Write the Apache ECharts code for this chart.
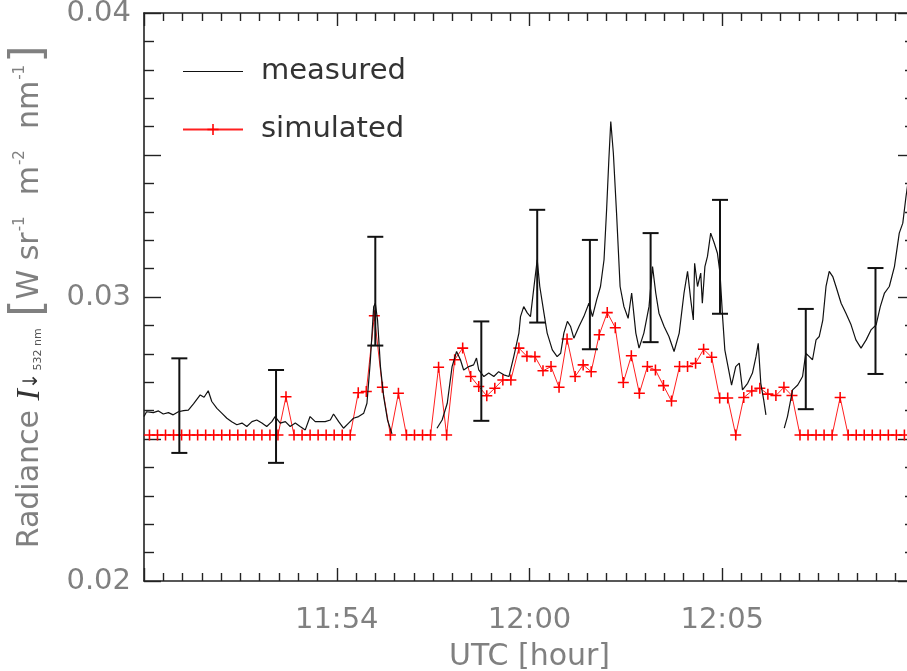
<!DOCTYPE html>
<html>
<head>
<meta charset="utf-8">
<script src="https://cdn.jsdelivr.net/npm/echarts@6/dist/echarts.min.js"></script>
<style>
html,body{margin:0;padding:0;background:#fff;}
#chart{width:907px;height:671px;}
</style>
</head>
<body>
<div id="chart"></div>
<script>
// x in minutes after 11:48 UTC
var xTickValues = [6, 12, 18];
var xTickLabels = ['11:54', '12:00', '12:05'];
var yTickValues = [0.02, 0.03, 0.04];
var yTickLabels = ['0.02', '0.03', '0.04'];

var measTime = [0.00,0.08,0.29,0.45,0.60,0.76,0.91,1.07,1.23,1.38,1.54,1.75,1.87,2.00,2.11,2.27,2.42,2.58,2.73,2.89,3.05,3.20,3.36,3.51,3.67,3.82,3.98,4.08,4.24,4.40,4.55,4.71,4.86,5.02,5.17,5.33,5.49,5.64,5.80,5.90,6.06,6.21,6.37,6.52,6.68,6.84,6.94,7.04,7.15,7.20,7.27,7.36,7.46,7.58,7.72,
  8.40,
  9.12,9.28,9.44,9.59,9.73,9.85,9.95,10.11,10.26,10.35,10.42,10.58,10.73,10.89,11.04,11.20,11.36,11.51,11.67,11.72,11.82,11.93,12.03,12.14,12.24,12.32,12.45,12.55,12.71,12.86,12.97,13.07,13.18,13.28,13.38,13.54,13.69,13.85,13.96,14.09,14.21,14.32,14.40,14.47,14.53,14.61,14.71,14.82,14.94,15.07,15.18,15.31,15.41,15.56,15.72,15.83,15.93,16.03,16.19,16.34,16.50,16.66,16.81,16.92,17.02,17.10,17.14,17.23,17.33,17.38,17.46,17.54,17.64,17.75,17.85,17.93,18.01,18.08,18.18,18.29,18.42,18.53,18.63,18.79,18.94,19.05,19.12,19.20,19.29,19.36,
  19.65,
  19.93,20.03,20.19,20.35,20.50,20.60,20.71,20.81,20.92,21.02,21.13,21.23,21.33,21.44,21.54,21.70,21.85,22.01,22.16,22.32,22.48,22.63,22.79,22.92,23.05,23.20,23.36,23.51,23.62,23.72,23.78];
var measValue = [0.02579,0.02596,0.02593,0.02599,0.02588,0.02593,0.02585,0.02596,0.02600,0.02602,0.02624,0.02655,0.02647,0.02670,0.02632,0.02608,0.02591,0.02573,0.02561,0.02550,0.02556,0.02544,0.02561,0.02567,0.02556,0.02544,0.02561,0.02579,0.02556,0.02561,0.02544,0.02556,0.02544,0.02532,0.02579,0.02561,0.02561,0.02561,0.02567,0.02588,0.02561,0.02538,0.02556,0.02573,0.02579,0.02591,0.02626,0.02767,0.02966,0.02978,0.02919,0.02755,0.02649,0.02567,0.02518,
  null,
  0.02538,0.02567,0.02626,0.02755,0.02808,0.02779,0.02743,0.02755,0.02761,0.02785,0.02743,0.02720,0.02732,0.02720,0.02737,0.02726,0.02720,0.02790,0.02873,0.02931,0.02966,0.02944,0.02931,0.03037,0.03131,0.03037,0.02943,0.02873,0.02814,0.02790,0.02802,0.02873,0.02914,0.02896,0.02855,0.02896,0.02931,0.02978,0.02931,0.02990,0.03037,0.03131,0.03307,0.03483,0.03618,0.03507,0.03295,0.03037,0.02966,0.02925,0.03014,0.02873,0.02820,0.02873,0.02966,0.03107,0.03014,0.02943,0.02896,0.02861,0.02808,0.02873,0.03014,0.03090,0.02990,0.02919,0.03119,0.03037,0.03084,0.02978,0.03107,0.03143,0.03225,0.03190,0.03154,0.03084,0.02931,0.02814,0.02755,0.02690,0.02755,0.02767,0.02673,0.02696,0.02732,0.02790,0.02837,0.02696,0.02638,0.02585,
  null,
  0.02538,0.02579,0.02673,0.02690,0.02720,0.02802,0.02790,0.02779,0.02849,0.02861,0.02919,0.03037,0.03090,0.03072,0.03037,0.02978,0.02943,0.02902,0.02849,0.02820,0.02849,0.02884,0.02902,0.02966,0.03014,0.03037,0.03107,0.03225,0.03260,0.03354,0.03402];

var simTime = [0.17,0.42,0.67,0.92,1.17,1.42,1.67,1.92,2.17,2.42,2.67,2.92,3.17,3.42,3.67,3.92,4.17,4.42,4.67,4.92,5.17,5.42,5.67,5.92,6.17,6.42,6.67,6.92,7.17,7.42,7.67,7.92,8.17,8.42,8.67,8.92,9.17,9.42,9.67,9.92,10.17,10.42,10.67,10.92,11.17,11.42,11.67,11.92,12.17,12.42,12.67,12.92,13.17,13.42,13.67,13.92,14.17,14.42,14.67,14.92,15.17,15.42,15.67,15.92,16.17,16.42,16.67,16.92,17.17,17.42,17.67,17.92,18.17,18.42,18.67,18.92,19.17,19.42,19.67,19.92,20.17,20.42,20.67,20.92,21.17,21.42,21.67,21.92,22.17,22.42,22.67,22.92,23.17,23.42,23.67];
var simValue = [0.02514,0.02514,0.02514,0.02514,0.02514,0.02514,0.02514,0.02514,0.02514,0.02514,0.02514,0.02514,0.02514,0.02514,0.02514,0.02514,0.02514,
  0.02649,
  0.02514,0.02514,0.02514,0.02514,0.02514,0.02514,0.02514,0.02514,
  0.02663,0.02667,0.02934,0.02682,0.02514,0.02661,
  0.02514,0.02514,0.02514,0.02514,
  0.02753,0.02514,0.02779,0.02820,0.02720,0.02685,0.02652,0.02679,0.02708,0.02708,0.02820,0.02791,0.02790,0.02740,0.02755,0.02682,0.02852,0.02720,0.02761,0.02737,0.02867,0.02945,0.02892,0.02699,0.02793,0.02661,0.02755,0.02743,0.02688,0.02634,0.02755,0.02755,0.02767,0.02816,0.02788,0.02644,0.02644,
  0.02514,
  0.02646,0.02669,0.02679,0.02658,0.02653,0.02682,0.02653,
  0.02514,0.02514,0.02514,0.02514,0.02514,
  0.02646,
  0.02514,0.02514,0.02514,0.02514,0.02514,0.02514,0.02514,0.02514];

var errTime = [1.10, 4.11, 7.20, 10.50, 12.24, 13.88, 15.77, 17.93, 20.60, 22.77];
var errLow  = [0.02451, 0.02416, 0.02829, 0.02564, 0.02910, 0.02816, 0.02841, 0.02941, 0.02605, 0.02729];
var errHigh = [0.02784, 0.02743, 0.03212, 0.02914, 0.03307, 0.03201, 0.03225, 0.03342, 0.02958, 0.03102];

var measData = measTime.map(function (t, i) { return [t, measValue[i]]; });
var simData = simTime.map(function (t, i) { return [t, simValue[i]]; });
var errData = errTime.map(function (t, i) { return [t, errLow[i], errHigh[i]]; });

var FONT = 'DejaVu Sans';
var LABEL_COLOR = '#808080';
var AXIS_COLOR = '#222222';

function xFmt(v) {
  for (var i = 0; i < xTickValues.length; i++) {
    if (Math.abs(v - xTickValues[i]) < 1e-6) return xTickLabels[i];
  }
  return '';
}
function yFmt(v) {
  for (var i = 0; i < yTickValues.length; i++) {
    if (Math.abs(v - yTickValues[i]) < 1e-9) return yTickLabels[i];
  }
  return '';
}

var plusPath = 'path://M8.6,0 H11.4 V8.6 H20 V11.4 H11.4 V20 H8.6 V11.4 H0 V8.6 H8.6 Z';

var xBase = {
  type: 'value', min: 0, max: 24, interval: 6,
  axisLine: { show: true, onZero: false, lineStyle: { color: AXIS_COLOR, width: 1.6 } },
  axisTick: { show: true, inside: true, length: 13, lineStyle: { color: AXIS_COLOR, width: 1.4 } },
  minorTick: { show: true, splitNumber: 10, length: 8, lineStyle: { color: AXIS_COLOR, width: 1.4 } },
  splitLine: { show: false }, minorSplitLine: { show: false }
};
var yBase = {
  type: 'value', min: 0.02, max: 0.04, interval: 0.005,
  axisLine: { show: true, onZero: false, lineStyle: { color: AXIS_COLOR, width: 1.6 } },
  axisTick: { show: true, inside: true, length: 17, lineStyle: { color: AXIS_COLOR, width: 1.4 } },
  minorTick: { show: true, splitNumber: 5, length: 10, lineStyle: { color: AXIS_COLOR, width: 1.4 } },
  splitLine: { show: false }, minorSplitLine: { show: false }
};

var chart = echarts.init(document.getElementById('chart'), null, { renderer: 'canvas' });
chart.setOption({
  animation: false,
  backgroundColor: '#ffffff',
  grid: { left: 144, right: -8, top: 13, bottom: 90, containLabel: false, outerBoundsMode: 'none' },
  legend: {
    orient: 'vertical', left: 182, top: 57, padding: 0,
    itemWidth: 60, itemHeight: 14, itemGap: 29,
    textStyle: { fontFamily: FONT, fontSize: 29, color: '#333333', padding: [0, 0, 0, 13] },
    data: [
      { name: 'measured', icon: 'path://M0,0 H50 V1 H0 Z' },
      { name: 'simulated' }
    ]
  },
  xAxis: [
    Object.assign({}, xBase, {
      position: 'bottom',
      axisLabel: { show: true, formatter: xFmt, margin: 25, fontFamily: FONT, fontSize: 29, color: LABEL_COLOR },
      name: 'UTC [hour]', nameLocation: 'middle', nameGap: 61,
      nameTextStyle: { fontFamily: FONT, fontSize: 30, color: LABEL_COLOR }
    }),
    Object.assign({}, xBase, { position: 'top', axisLabel: { show: false } })
  ],
  yAxis: [
    Object.assign({}, yBase, {
      position: 'left',
      axisLabel: { show: true, formatter: yFmt, margin: 13, fontFamily: FONT, fontSize: 29, color: LABEL_COLOR },
      name: '{n|Radiance }{i|I}{ar|↓}{sub|532 nm}{n| }{br|[}{n|W sr}{sup|-1}{n|  m}{sup|-2}{n|  nm}{sup|-1}{br|]}',
      nameLocation: 'middle', nameRotate: 90, nameGap: 92,
      nameTextStyle: {
        fontFamily: FONT, fontSize: 30, color: LABEL_COLOR,
        rich: {
          n: { fontFamily: FONT, fontSize: 30, color: LABEL_COLOR },
          i: { fontFamily: 'Liberation Serif', fontStyle: 'italic', fontSize: 34, color: '#333333' },
          ar: { fontFamily: FONT, fontSize: 20, color: '#333333', padding: [4, 0, 0, 0] },
          sub: { fontFamily: FONT, fontSize: 11, color: '#555555', padding: [16, 2, 0, 2] },
          sup: { fontFamily: FONT, fontSize: 15, color: LABEL_COLOR, padding: [0, 2, 20, 1] },
          br: { fontFamily: FONT, fontSize: 44, color: LABEL_COLOR }
        }
      }
    }),
    Object.assign({}, yBase, { position: 'right', axisLabel: { show: false } })
  ],
  series: [
    {
      name: 'measured', type: 'line', data: measData,
      xAxisIndex: 0, yAxisIndex: 0,
      showSymbol: false, symbol: 'none', connectNulls: false,
      lineStyle: { color: '#111111', width: 1.2 },
      itemStyle: { color: '#111111' },
      z: 3
    },
    {
      name: 'simulated', type: 'line', data: simData,
      xAxisIndex: 0, yAxisIndex: 0,
      symbol: plusPath, symbolSize: 11, showSymbol: true,
      lineStyle: { color: '#ff2020', width: 1 },
      itemStyle: { color: '#ff0000' },
      z: 2
    },
    {
      name: 'error', type: 'custom', data: errData,
      xAxisIndex: 0, yAxisIndex: 0,
      encode: { x: 0, y: [1, 2] },
      renderItem: function (params, api) {
        var lo = api.coord([api.value(0), api.value(1)]);
        var hi = api.coord([api.value(0), api.value(2)]);
        var hw = 8;
        var st = { stroke: '#111111', lineWidth: 2, fill: null };
        return {
          type: 'group',
          children: [
            { type: 'line', shape: { x1: lo[0], y1: lo[1], x2: hi[0], y2: hi[1] }, style: st },
            { type: 'line', shape: { x1: lo[0] - hw, y1: lo[1], x2: lo[0] + hw, y2: lo[1] }, style: st },
            { type: 'line', shape: { x1: hi[0] - hw, y1: hi[1], x2: hi[0] + hw, y2: hi[1] }, style: st }
          ]
        };
      },
      z: 4
    }
  ]
});
</script>
</body>
</html>
